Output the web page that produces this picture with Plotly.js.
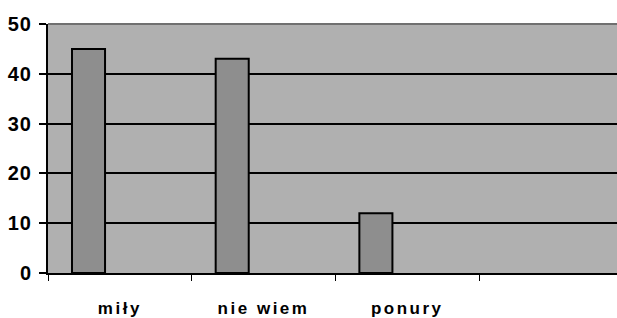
<!DOCTYPE html>
<html><head><meta charset="utf-8">
<script src="https://cdn.plot.ly/plotly-3.0.1.min.js"></script>
<style>
html,body{margin:0;padding:0;background:#fff;}
#chart{width:617px;height:318px;}
#chart .xtick text{letter-spacing:2.5px;font-weight:700 !important;}
#chart .ytick text{letter-spacing:1px;font-weight:700 !important;}
</style>
</head><body><div id="chart"></div>
<script>
const categories = ['miły', 'nie wiem', 'ponury', ' '];
const barCategories = ['miły', 'nie wiem', 'ponury'];
const values = [45, 43, 12];
const yTicks = [0, 10, 20, 30, 40, 50];

const trace = {
  type: 'bar',
  x: barCategories,
  y: values,
  offset: -0.333,
  width: 0.23,
  marker: {color: '#8e8e8e', line: {color: '#000', width: 2}},
  hoverinfo: 'skip'
};

const layout = {
  width: 617, height: 318,
  margin: {l: 48, r: 0, t: 24, b: 45},
  paper_bgcolor: '#ffffff',
  plot_bgcolor: '#b0b0b0',
  showlegend: false,
  font: {family: 'Liberation Sans', color: '#000', size: 14},
  xaxis: {
    type: 'category',
    categoryorder: 'array', categoryarray: categories,
    range: [-0.5, 3.46],
    tickson: 'boundaries',
    ticks: 'outside', ticklen: 6, tickwidth: 1, tickcolor: '#000',
    showgrid: false, zeroline: false,
    showline: true, linecolor: '#000', linewidth: 2,
    tickfont: {size: 17, family: 'Liberation Sans', weight: 'bold', color: '#000'},
    ticklabelstandoff: 19,
    fixedrange: true
  },
  yaxis: {
    range: [0, 50],
    tickvals: yTicks,
    ticktext: yTicks.map(String),
    ticks: 'outside', ticklen: 7, tickwidth: 2, tickcolor: '#000',
    showgrid: true, gridcolor: '#000', gridwidth: 2,
    zeroline: false,
    showline: true, linecolor: '#000', linewidth: 2,
    tickfont: {size: 20, family: 'Liberation Sans', weight: 'bold', color: '#000'},
    ticklabelstandoff: 3,
    fixedrange: true
  },
  shapes: [{
    type: 'line', xref: 'paper', yref: 'paper', x0: 0, x1: 1, y0: 1, y1: 1,
    line: {color: '#707070', width: 2}, layer: 'above'
  }]
};

Plotly.newPlot('chart', [trace], layout, {displayModeBar: false, staticPlot: true});
</script>
</body></html>
